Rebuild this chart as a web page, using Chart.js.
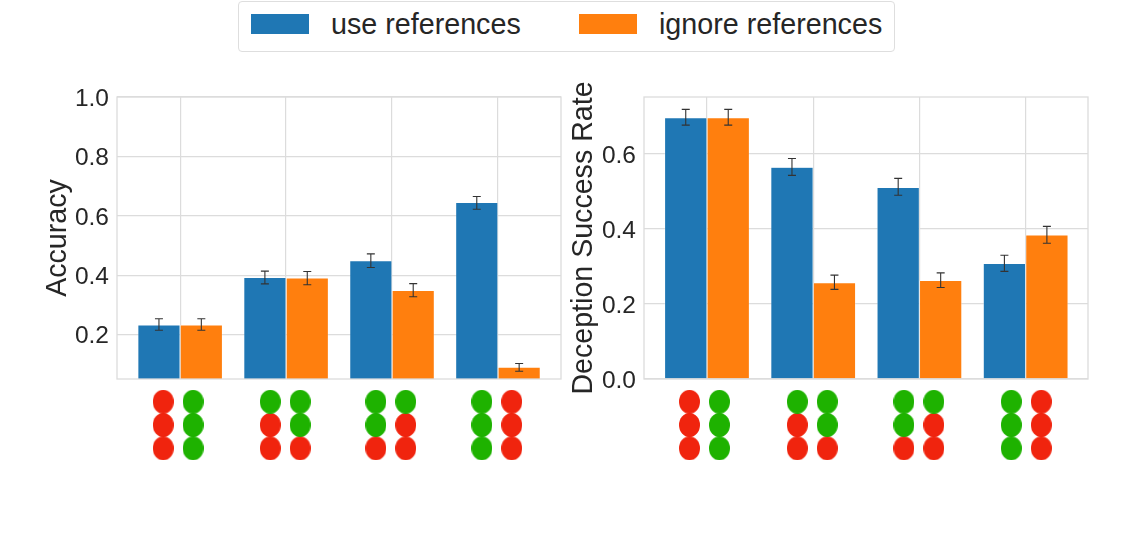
<!DOCTYPE html>
<html>
<head>
<meta charset="utf-8">
<title>References</title>
<script src="https://cdn.jsdelivr.net/npm/chart.js@4"></script>
<style>
  html, body { margin: 0; padding: 0; background: #fff; width: 1136px; height: 538px; overflow: hidden; }
  body { position: relative; font-family: "Liberation Sans", Arial, sans-serif; color: #262626; }
  #boxA { position: absolute; left: 0; top: 0; width: 566px; height: 538px; }
  #boxB { position: absolute; left: 566px; top: 0; width: 570px; height: 538px; }
  #legend { position: absolute; left: 238px; top: 1px; width: 655px; height: 49px; border: 1px solid #dedede; border-radius: 4px; }
  .swatch { position: absolute; top: 12px; width: 58px; height: 20px; }
  .name { position: absolute; top: 6px; font-size: 28.7px; line-height: 33px; white-space: nowrap; }
</style>
</head>
<body>
<div id="legend">
  <div class="swatch" style="left:12px;background:#1f77b4"></div>
  <div class="name" id="nameUse" style="left:92px"></div>
  <div class="swatch" style="left:340px;background:#ff7f0e"></div>
  <div class="name" id="nameIgnore" style="left:420px"></div>
</div>
<div id="boxA"><canvas id="graficoAccuracy" width="566" height="538"></canvas></div>
<div id="boxB"><canvas id="graficoDeception" width="570" height="538"></canvas></div>
<script>
const nomes = ['use references', 'ignore references'];
const posicoes = [0, 1, 2, 3];

// accuracy panel
const accUse = [0.233, 0.393, 0.449, 0.645];
const accIgnore = [0.233, 0.391, 0.349, 0.091];
const accUseLow = [0.215, 0.371, 0.426, 0.622];
const accUseHigh = [0.254, 0.414, 0.472, 0.665];
const accIgnoreLow = [0.215, 0.368, 0.328, 0.077];
const accIgnoreHigh = [0.254, 0.413, 0.372, 0.103];
const accTicks = [0.2, 0.4, 0.6, 0.8, 1.0];
const accCentros = [-0.019, 0.992, 1.988, 2.989];

// deception panel
const decUse = [0.697, 0.565, 0.511, 0.308];
const decIgnore = [0.697, 0.257, 0.263, 0.384];
const decUseLow = [0.677, 0.543, 0.490, 0.287];
const decUseHigh = [0.719, 0.588, 0.535, 0.330];
const decIgnoreLow = [0.677, 0.239, 0.244, 0.362];
const decIgnoreHigh = [0.719, 0.277, 0.283, 0.407];
const decTicks = [0.0, 0.2, 0.4, 0.6];
const decCentros = [-0.024, 0.991, 1.995, 3.006];

// dot patterns under each group, top to bottom (r = red, g = green)
const colunaEsq = ['rrr', 'grr', 'ggr', 'ggg'];
const colunaDir = ['ggg', 'ggr', 'grr', 'rrr'];

document.getElementById('nameUse').textContent = nomes[0];
document.getElementById('nameIgnore').textContent = nomes[1];

const AZUL = '#1f77b4', LARANJA = '#ff7f0e', VERMELHO = '#f0240e', VERDE = '#1eb200';
const TEXTO = '#262626', GRADE = '#dcdcdc';

function fazerPonto(cor) {
  const c = document.createElement('canvas');
  c.width = 21;
  c.height = 24;
  const g = c.getContext('2d');
  g.fillStyle = cor;
  g.beginPath();
  g.ellipse(10.5, 12, 10.5, 12, 0, 0, Math.PI * 2);
  g.fill();
  return c;
}
const pontoVermelho = fazerPonto(VERMELHO);
const pontoVerde = fazerPonto(VERDE);

function pontos(centros, letra) {
  const out = [];
  centros.forEach((cx, i) => {
    for (let linha = 0; linha < 3; linha++) {
      if (colunaEsq[i][linha] === letra) out.push({ x: cx - 0.141, y: linha + 1 });
      if (colunaDir[i][linha] === letra) out.push({ x: cx + 0.141, y: linha + 1 });
    }
  });
  return out;
}

// error bars, frame and the dots below the plot (points skip themselves outside chartArea)
const extras = {
  id: 'extras',
  afterDatasetsDraw(chart, args, opts) {
    const ctx = chart.ctx, y = chart.scales.y, a = chart.chartArea;
    ctx.save();
    ctx.strokeStyle = GRADE;
    ctx.lineWidth = 1.3;
    ctx.strokeRect(a.left, a.top, a.right - a.left, a.bottom - a.top);
    ctx.strokeStyle = '#333';
    ctx.lineWidth = 1.1;
    opts.erros.forEach((e, d) => {
      chart.getDatasetMeta(d).data.forEach((bar, i) => {
        const lo = y.getPixelForValue(e.low[i]), hi = y.getPixelForValue(e.high[i]);
        ctx.beginPath();
        ctx.moveTo(bar.x, lo); ctx.lineTo(bar.x, hi);
        ctx.moveTo(bar.x - 4, lo); ctx.lineTo(bar.x + 4, lo);
        ctx.moveTo(bar.x - 4, hi); ctx.lineTo(bar.x + 4, hi);
        ctx.stroke();
      });
    });
    const tudo = { left: 0, top: 0, right: chart.width, bottom: chart.height };
    [2, 3].forEach(d => chart.getDatasetMeta(d).data.forEach(p => p.draw(ctx, tudo)));
    ctx.restore();
  }
};

function gerarGrafico(id, cfg) {
  const serie = (label, valores, cor) => ({
    type: 'bar',
    label: label,
    data: valores.map((v, i) => ({ x: posicoes[i], y: v })),
    backgroundColor: cor,
    borderColor: 'rgba(255,255,255,0.6)',
    borderWidth: 0.6,
    categoryPercentage: 0.8,
    barPercentage: 1
  });
  const fila = (letra, img) => ({
    type: 'scatter',
    data: pontos(cfg.centros, letra),
    yAxisID: 'filas',
    pointStyle: img,
    showLine: false,
    clip: false
  });
  return new Chart(document.getElementById(id), {
    type: 'bar',
    data: {
      datasets: [
        serie(nomes[0], cfg.use, AZUL),
        serie(nomes[1], cfg.ignore, LARANJA),
        fila('r', pontoVermelho),
        fila('g', pontoVerde)
      ]
    },
    plugins: [extras],
    options: {
      responsive: false,
      animation: false,
      events: [],
      layout: { padding: { left: cfg.padLeft, right: cfg.padRight, top: 97, bottom: 159 } },
      plugins: {
        legend: { display: false },
        tooltip: { enabled: false },
        extras: { erros: cfg.erros }
      },
      scales: {
        x: {
          type: 'linear',
          offset: false,
          min: cfg.xMin,
          max: cfg.xMax,
          afterBuildTicks: s => { s.ticks = posicoes.map(v => ({ value: v })); },
          afterFit: s => { s.height = 0; },
          ticks: { display: false },
          grid: { color: GRADE, lineWidth: 1.2, drawTicks: false, offset: false },
          border: { display: false }
        },
        y: {
          min: cfg.yMin,
          max: cfg.yMax,
          afterBuildTicks: s => { s.ticks = cfg.ticks.map(v => ({ value: v })); },
          afterFit: s => { s.width = cfg.axisWidth; },
          ticks: {
            color: TEXTO,
            padding: 8,
            labelOffset: 2,
            font: { family: '"Liberation Sans"', size: 24.5 },
            callback: v => v.toFixed(1)
          },
          grid: { color: GRADE, lineWidth: 1.2, drawTicks: false },
          border: { display: false },
          title: {
            display: true,
            text: cfg.titulo,
            color: TEXTO,
            padding: 0,
            font: { family: '"Liberation Sans"', size: 28.6 }
          }
        },
        // rows of dots hang below the plot area
        filas: { display: false, reverse: true, min: -12.077, max: 0.026 }
      }
    }
  });
}

gerarGrafico('graficoAccuracy', {
  use: accUse, ignore: accIgnore,
  erros: [{ low: accUseLow, high: accUseHigh }, { low: accIgnoreLow, high: accIgnoreHigh }],
  ticks: accTicks, centros: accCentros, titulo: 'Accuracy',
  xMin: -0.596, xMax: 3.595, yMin: 0.051, yMax: 1.0,
  padLeft: 41, padRight: 4, axisWidth: 76
});

gerarGrafico('graficoDeception', {
  use: decUse, ignore: decIgnore,
  erros: [{ low: decUseLow, high: decUseHigh }, { low: decIgnoreLow, high: decIgnoreHigh }],
  ticks: decTicks, centros: decCentros, titulo: 'Deception Success Rate',
  xMin: -0.593, xMax: 3.587, yMin: 0, yMax: 0.752,
  padLeft: 1, padRight: 48, axisWidth: 77
});
</script>
</body>
</html>
